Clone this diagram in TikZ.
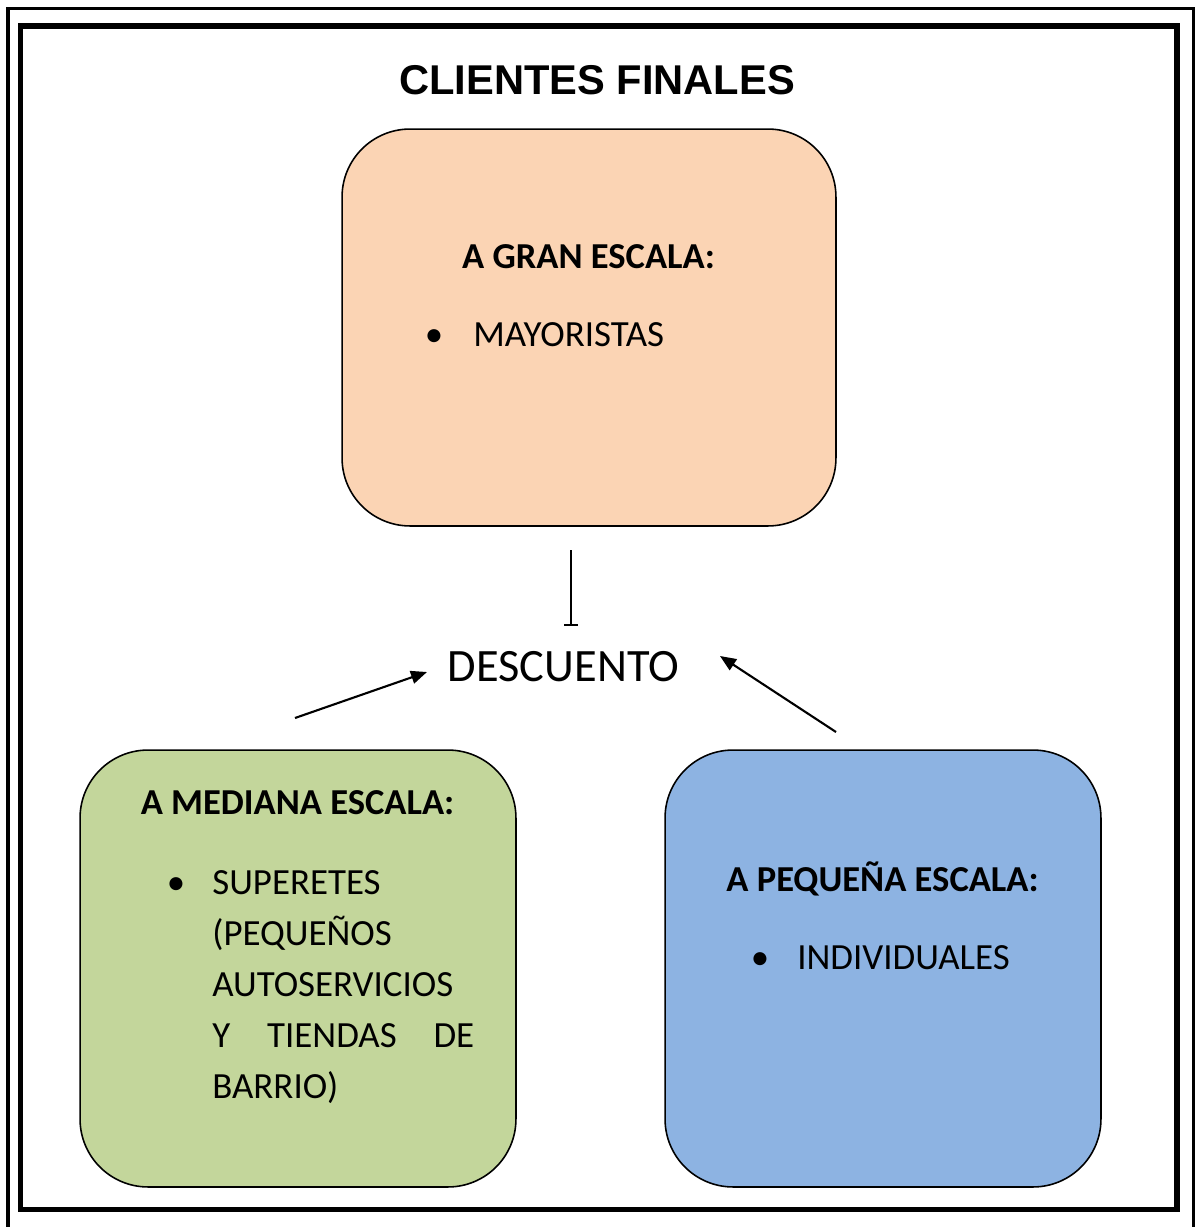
\documentclass[tikz,border=0pt]{standalone}
\usepackage{fontspec}
\setmainfont{Carlito}
\newfontfamily\arialfont{Liberation Sans}
\usepackage{xcolor}
\usetikzlibrary{arrows.meta}
\definecolor{granfill}{HTML}{FBD4B4}
\definecolor{medianafill}{HTML}{C3D69B}
\definecolor{pequenafill}{HTML}{8DB3E2}
\tikzset{caja/.style={draw, line width=0.9pt, rounded corners=1.36cm, inner sep=0pt},
 txt/.style={inner sep=0pt, font=\fontsize{21}{25}\selectfont},
 encabezado/.style={inner sep=0pt, font=\bfseries\fontsize{20.8}{25}\selectfont},
 titulotxt/.style={inner sep=0pt, font=\arialfont\bfseries\fontsize{23.7}{28}\selectfont},
 flecha/.style={line width=1.2pt, -{Triangle[length=0.32cm,width=0.26cm]}},
 }

\begin{document}
\begin{tikzpicture}[x=0.02cm, y=-0.02cm]
        \useasboundingbox (0,0) rectangle (1197,1227);
        % marco doble
        \begin{scope}
            \clip (0,0) rectangle (1197,1227);
            \draw[line width=0.065cm] (8,8.5) rectangle (1193.5,1240);
        \end{scope}
        \draw[line width=0.11cm] (20.5,26) rectangle (1177,1209.5);
        \node[titulotxt, anchor=base] (titulo) at (597,94.3) {CLIENTES FINALES};
        % cajas
        \node[caja, fill=granfill, minimum width=9.88cm, minimum height=7.94cm] (gran) at (589,327.5) {};
        \node[caja, fill=medianafill, minimum width=8.72cm, minimum height=8.74cm] (mediana) at (298,968.5) {};
        \node[caja, fill=pequenafill, minimum width=8.72cm, minimum height=8.74cm] (pequena) at (883,968.5) {};
        % textos
        \node[encabezado, anchor=base] (granhead) at (588.5,268) {A GRAN ESCALA:};
        \node[txt, anchor=base] (granbul) at (434,346) {•};
        \node[txt, anchor=base west] (granitem) at (473,346) {MAYORISTAS};
        \node[encabezado, anchor=base] (medianahead) at (297.5,814) {A MEDIANA ESCALA:};
        \node[txt, anchor=base] (medianabul) at (176,894) {•};
        \foreach \t [count=\i from 0] in {{SUPERETES}, {(PEQUEÑOS}, {AUTOSERVICIOS}, {\hbox to 5.24cm{Y\hfill TIENDAS\hfill DE}}, {BARRIO)}} {
            \node[txt, anchor=base west] (linea\i) at (212,894+51*\i) {\t};
        }
        \node[encabezado, anchor=base] (pequenahead) at (882.5,891.7) {A PEQUEÑA ESCALA:};
        \node[txt, anchor=base] (pequenabul) at (760,969) {•};
        \node[txt, anchor=base west] (pequenaitem) at (797,969) {INDIVIDUALES};
        \node[txt, anchor=base, font=\fontsize{26.4}{30}\selectfont] (descuento) at (563.5,681.7) {DESCUENTO};
        % flechas
        \coordinate (granbase) at (571,550);
        \coordinate (granfin) at (571,626);
        \coordinate (medianapunta) at (295,718);
        \coordinate (desclado) at (427,672);
        \coordinate (pequenapunta) at (836,732);
        \coordinate (descotro) at (720,656);
        \draw[line width=1.2pt, -{Bar[width=0.28cm]}] (granbase) -- (granfin);
        \draw[flecha] (medianapunta) -- (desclado);
        \draw[flecha] (pequenapunta) -- (descotro);
    \end{tikzpicture}
\end{document}
